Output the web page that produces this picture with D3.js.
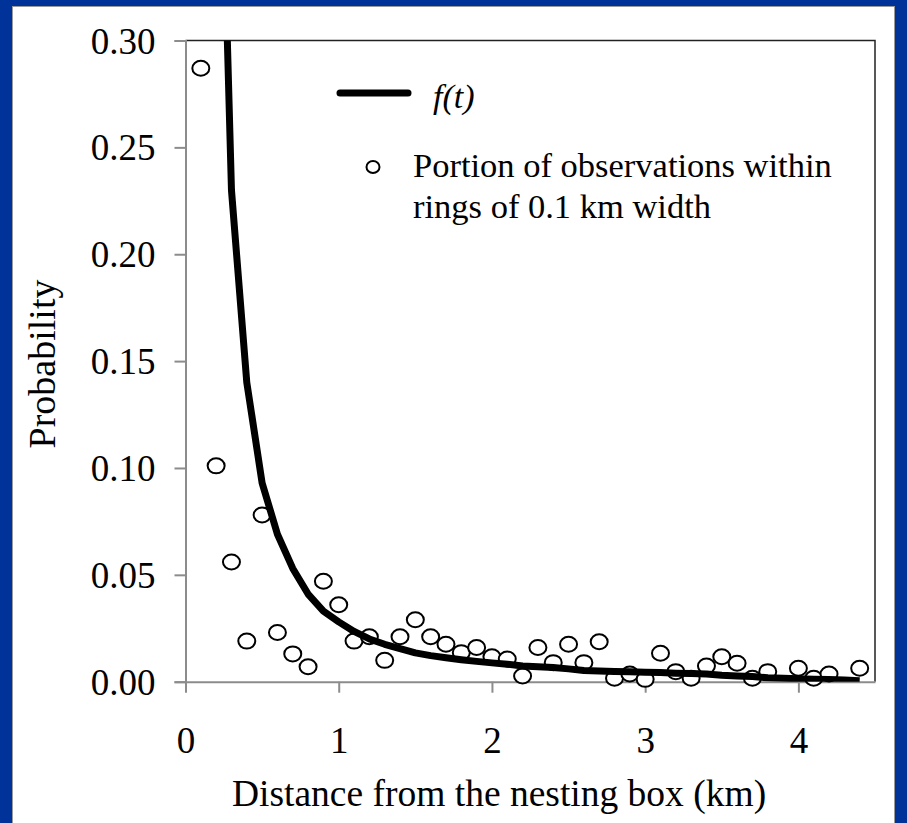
<!DOCTYPE html>
<html>
<head>
<meta charset="utf-8">
<script src="https://cdn.jsdelivr.net/npm/d3@7"></script>
<style>
  html, body { margin: 0; padding: 0; background: #003399; overflow: hidden; }
  svg { display: block; }
</style>
</head>
<body>
<script>
const serif = '"Liberation Serif", "Times New Roman", serif';

// observed portions per 0.1 km ring
const distances = [0.1, 0.2, 0.3, 0.4, 0.5, 0.6, 0.7, 0.8, 0.9, 1.0,
    1.1, 1.2, 1.3, 1.4, 1.5, 1.6, 1.7, 1.8, 1.9, 2.0,
    2.1, 2.2, 2.3, 2.4, 2.5, 2.6, 2.7, 2.8, 2.9, 3.0,
    3.1, 3.2, 3.3, 3.4, 3.5, 3.6, 3.7, 3.8, 4.0, 4.1, 4.2, 4.4];
const portions = [0.287, 0.101, 0.056, 0.019, 0.078, 0.023, 0.013, 0.007, 0.047, 0.036,
    0.019, 0.021, 0.010, 0.021, 0.029, 0.021, 0.0175, 0.0136, 0.016, 0.0117,
    0.0106, 0.0027, 0.016, 0.0089, 0.0175, 0.0089, 0.0187, 0.0016, 0.0036, 0.0011,
    0.0133, 0.0047, 0.0016, 0.0073, 0.0117, 0.0086, 0.0016, 0.0047, 0.0063, 0.0016, 0.0036, 0.0063];

// fitted curve f(t)
const tValues = [0.2, 0.3, 0.4, 0.5, 0.6, 0.7, 0.8, 0.9, 1.0, 1.1,
    1.2, 1.3, 1.4, 1.5, 1.6, 1.7, 1.8, 1.9, 2.0, 2.1,
    2.2, 2.3, 2.4, 2.5, 2.6, 2.7, 2.8, 2.9, 3.0, 3.1,
    3.2, 3.3, 3.4, 3.5, 3.6, 3.7, 3.8, 3.9, 4.0, 4.1, 4.2, 4.3, 4.4];
const fValues = [0.49, 0.23, 0.14, 0.093, 0.069, 0.053, 0.041, 0.033, 0.028, 0.0235,
    0.020, 0.0175, 0.0155, 0.0135, 0.0122, 0.0112, 0.0103, 0.0095, 0.0088, 0.0082,
    0.0073, 0.0070, 0.0066, 0.0060, 0.0052, 0.0050, 0.0048, 0.0046, 0.0044, 0.0043,
    0.0040, 0.0038, 0.0036, 0.0030, 0.0027, 0.0024, 0.0018, 0.0016, 0.0014, 0.0012, 0.0010, 0.0008, 0.0005];

const xTicks = [0, 1, 2, 3, 4];
const yTicks = [0, 0.05, 0.10, 0.15, 0.20, 0.25, 0.30];

const width = 907, height = 823;
const margin = {top: 40.5, right: 32, bottom: 141.3, left: 185.5};
const innerW = width - margin.left - margin.right;
const innerH = height - margin.top - margin.bottom;

const svg = d3.select("body").append("svg")
    .attr("width", width)
    .attr("height", height);

// white panel inside blue frame
svg.append("rect")
    .attr("x", 12.5).attr("y", 6.5)
    .attr("width", 882).attr("height", height)
    .attr("fill", "#fff")
    .attr("stroke", "#9a9a9a")
    .attr("stroke-width", 1);

const g = svg.append("g")
    .attr("transform", `translate(${margin.left},${margin.top})`);

const x = d3.scaleLinear().domain([0, 4.5]).range([0, innerW]);
const y = d3.scaleLinear().domain([0, 0.30]).range([innerH, 0]);

g.append("clipPath").attr("id", "plot-clip")
  .append("rect")
    .attr("width", innerW).attr("height", innerH);

// plot frame (top and right)
g.append("path")
    .attr("d", `M0,0H${innerW}V${innerH}`)
    .attr("fill", "none")
    .attr("stroke", "#222")
    .attr("stroke-width", 1.5);

// axes
const yAxis = g.append("g")
    .call(d3.axisLeft(y).tickValues(yTicks).tickFormat(d3.format(".2f"))
        .tickSize(11).tickPadding(19));
const xAxis = g.append("g")
    .attr("transform", `translate(0,${innerH})`)
    .call(d3.axisBottom(x).tickValues(xTicks).tickFormat(d3.format("d"))
        .tickSize(11).tickSizeOuter(0).tickPadding(35));

[yAxis, xAxis].forEach(a => {
    a.select(".domain").attr("stroke", "#8c8c8c").attr("stroke-width", 2);
    a.selectAll(".tick line").attr("stroke", "#8c8c8c").attr("stroke-width", 2);
    a.selectAll(".tick text")
        .attr("font-family", serif)
        .attr("font-size", 37)
        .attr("fill", "#000");
});
yAxis.selectAll(".tick text").attr("dy", "0.34em");
xAxis.selectAll(".tick text").attr("dy", "0.68em");

// data markers
g.append("g")
  .selectAll("ellipse")
    .data(distances.map((d, i) => ({t: d, p: portions[i]})))
  .enter().append("ellipse")
    .attr("cx", d => x(d.t))
    .attr("cy", d => y(d.p))
    .attr("rx", 8.5)
    .attr("ry", 7.5)
    .attr("fill", "#fff")
    .attr("stroke", "#000")
    .attr("stroke-width", 2);

// fitted line
const line = d3.line()
    .x(d => x(d.t))
    .y(d => y(d.f));

g.append("path")
    .datum(tValues.map((t, i) => ({t: t, f: fValues[i]})))
    .attr("clip-path", "url(#plot-clip)")
    .attr("d", line)
    .attr("fill", "none")
    .attr("stroke", "#000")
    .attr("stroke-width", 7)
    .attr("stroke-linejoin", "round");

// axis titles
svg.append("text")
    .attr("x", 499).attr("y", 806)
    .attr("text-anchor", "middle")
    .attr("font-family", serif)
    .attr("font-size", 37.5)
    .text("Distance from the nesting box (km)");

svg.append("text")
    .attr("transform", "translate(55,364) rotate(-90)")
    .attr("text-anchor", "middle")
    .attr("font-family", serif)
    .attr("font-size", 38)
    .text("Probability");

// legend
const legend = svg.append("g");
legend.append("line")
    .attr("x1", 340).attr("x2", 408)
    .attr("y1", 93).attr("y2", 93)
    .attr("stroke", "#000")
    .attr("stroke-width", 7)
    .attr("stroke-linecap", "round");
legend.append("text")
    .attr("x", 433).attr("y", 108)
    .attr("font-family", serif)
    .attr("font-size", 34)
    .attr("font-style", "italic")
    .text("f(t)");
legend.append("ellipse")
    .attr("cx", 373).attr("cy", 167)
    .attr("rx", 6.5).attr("ry", 6)
    .attr("fill", "#fff")
    .attr("stroke", "#000")
    .attr("stroke-width", 2);
legend.append("text")
    .attr("x", 413).attr("y", 177)
    .attr("font-family", serif)
    .attr("font-size", 34.5)
    .text("Portion of observations within");
legend.append("text")
    .attr("x", 413).attr("y", 218)
    .attr("font-family", serif)
    .attr("font-size", 34.5)
    .text("rings of 0.1 km width");
</script>
</body>
</html>
